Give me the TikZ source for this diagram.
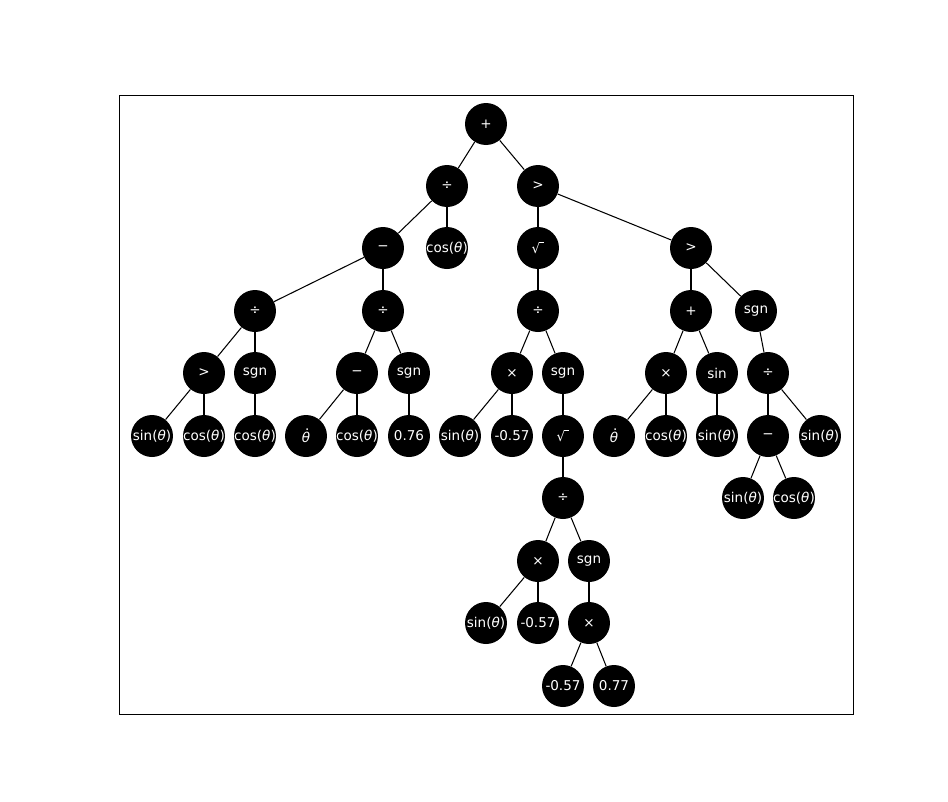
\documentclass[tikz,border=0pt]{standalone}
\usepackage{fontspec}
\setmainfont{DejaVu Sans}
\usepackage{tikz}

\newcommand{\thet}{\textit{θ}}
\newcommand{\sinth}{sin(\thet)}
\newcommand{\costh}{cos(\thet)}
\newcommand{\thdot}{\makebox[0pt][l]{\kern0.24em\raisebox{0.86em}{.}}\thet}
\newcommand{\sqrtop}{√\kern-0.1em\raisebox{0.78em}{\rule{0.42em}{0.06em}}}

\begin{document}
\begin{tikzpicture}[x=0.02cm, y=-0.02cm,
  every node/.style={font=\fontsize{7.7}{9}\selectfont},
  op/.style={circle, fill=black, text=white, minimum size=0.84cm, inner sep=-6pt},
  link/.style={line width=0.6pt}]
% Canvas and frame
\useasboundingbox (0,0) rectangle (948,802);
\draw[line width=0.5pt] (119,95) rectangle (853,714);

% Level 0 and 1
\node[op] (root) at (486,124) {+};
\node[op] (divA) at (447,186) {÷};
\node[op] (gtA) at (538,186) {>};

% Level 2
\node[op] (minA) at (383,248) {−};
\node[op] (cosA) at (447,248) {\costh};
\node[op] (sqA) at (538,248) {\sqrtop};
\node[op] (gtB) at (691,248) {>};

% Level 3
\node[op] (divB) at (255,311) {÷};
\node[op] (divC) at (383,311) {÷};
\node[op] (divD) at (538,311) {÷};
\node[op] (plusA) at (691,311) {+};
\node[op] (sgnA) at (756,311) {sgn};

% Level 4
\node[op] (gtC) at (204,373) {>};
\node[op] (sgnB) at (255,373) {sgn};
\node[op] (minB) at (357,373) {−};
\node[op] (sgnC) at (409,373) {sgn};
\node[op] (mulA) at (512,373) {×};
\node[op] (sgnD) at (563,373) {sgn};
\node[op] (mulB) at (666,373) {×};
\node[op] (sinA) at (717,373) {sin};
\node[op] (divE) at (768,373) {÷};

% Level 5
\node[op] (l1) at (152,436) {\sinth};
\node[op] (l2) at (204,436) {\costh};
\node[op] (l3) at (255,436) {\costh};
\node[op] (l4) at (306,436) {\thdot};
\node[op] (l5) at (357,436) {\costh};
\node[op] (l6) at (409,436) {0.76};
\node[op] (l7) at (460,436) {\sinth};
\node[op] (l8) at (512,436) {-0.57};
\node[op] (sqB) at (563,436) {\sqrtop};
\node[op] (l9) at (614,436) {\thdot};
\node[op] (l10) at (666,436) {\costh};
\node[op] (l11) at (717,436) {\sinth};
\node[op] (minC) at (768,436) {−};
\node[op] (l12) at (820,436) {\sinth};

% Level 6 to 9
\node[op] (divF) at (563,498) {÷};
\node[op] (l13) at (743,498) {\sinth};
\node[op] (l14) at (794,498) {\costh};
\node[op] (mulC) at (538,561) {×};
\node[op] (sgnE) at (589,561) {sgn};
\node[op] (l15) at (486,623) {\sinth};
\node[op] (l16) at (538,623) {-0.57};
\node[op] (mulD) at (589,623) {×};
\node[op] (l17) at (563,686) {-0.57};
\node[op] (l18) at (614,686) {0.77};

% Edges
\draw[link] (root) -- (divA);
\draw[link] (root) -- (gtA);
\draw[link] (divA) -- (minA);
\draw[link] (divA) -- (cosA);
\draw[link] (gtA) -- (sqA);
\draw[link] (gtA) -- (gtB);
\draw[link] (minA) -- (divB);
\draw[link] (minA) -- (divC);
\draw[link] (sqA) -- (divD);
\draw[link] (gtB) -- (plusA);
\draw[link] (gtB) -- (sgnA);
\draw[link] (divB) -- (gtC);
\draw[link] (divB) -- (sgnB);
\draw[link] (divC) -- (minB);
\draw[link] (divC) -- (sgnC);
\draw[link] (divD) -- (mulA);
\draw[link] (divD) -- (sgnD);
\draw[link] (plusA) -- (mulB);
\draw[link] (plusA) -- (sinA);
\draw[link] (sgnA) -- (divE);
\draw[link] (gtC) -- (l1);
\draw[link] (gtC) -- (l2);
\draw[link] (sgnB) -- (l3);
\draw[link] (minB) -- (l4);
\draw[link] (minB) -- (l5);
\draw[link] (sgnC) -- (l6);
\draw[link] (mulA) -- (l7);
\draw[link] (mulA) -- (l8);
\draw[link] (sgnD) -- (sqB);
\draw[link] (mulB) -- (l9);
\draw[link] (mulB) -- (l10);
\draw[link] (sinA) -- (l11);
\draw[link] (divE) -- (minC);
\draw[link] (divE) -- (l12);
\draw[link] (sqB) -- (divF);
\draw[link] (minC) -- (l13);
\draw[link] (minC) -- (l14);
\draw[link] (divF) -- (mulC);
\draw[link] (divF) -- (sgnE);
\draw[link] (mulC) -- (l15);
\draw[link] (mulC) -- (l16);
\draw[link] (sgnE) -- (mulD);
\draw[link] (mulD) -- (l17);
\draw[link] (mulD) -- (l18);

\end{tikzpicture}
\end{document}
